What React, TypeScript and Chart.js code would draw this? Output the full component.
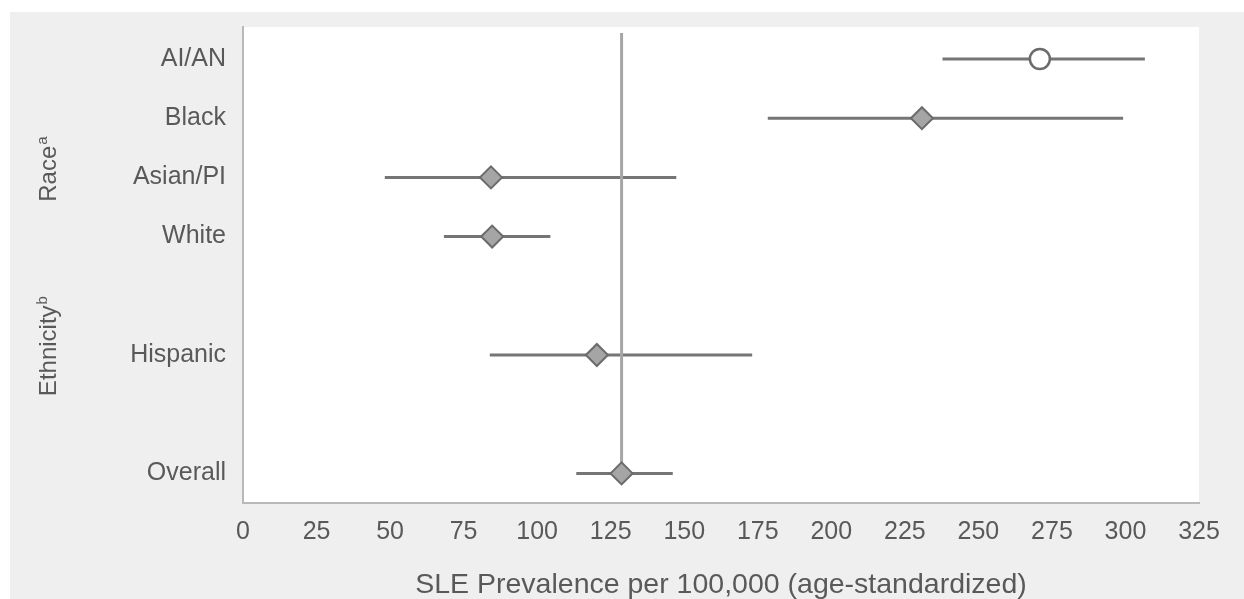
import React, { useEffect, useRef } from 'react';
import { Chart, registerables } from 'chart.js';

Chart.register(...registerables);

// ---- data ----
const categories = ['AI/AN', 'Black', 'Asian/PI', 'White', 'Hispanic', 'Overall'];
const rowPositions = [0, 1, 2, 3, 5, 7];
const estimates = [270.9, 230.8, 84.3, 84.7, 120.3, 128.7];
const lowerCI = [237.8, 178.4, 48.2, 68.3, 83.9, 113.3];
const upperCI = [306.6, 299.2, 147.3, 104.5, 173.1, 146.1];
const markerStyles = ['circle', 'rectRot', 'rectRot', 'rectRot', 'rectRot', 'rectRot'];
const markerFills = ['#ffffff', '#a5a5a5', '#a5a5a5', '#a5a5a5', '#a5a5a5', '#a5a5a5'];
const xTickValues = [0, 25, 50, 75, 100, 125, 150, 175, 200, 225, 250, 275, 300, 325];
const groupTitles = ['Race', 'Ethnicity'];
const groupSuperscripts = ['a', 'b'];
const groupCenters = [1.86, 4.85];
const xAxisTitle = 'SLE Prevalence per 100,000 (age-standardized)';
const referenceIndex = 5; // Overall
const referenceTop = -0.44;

const FONT = "'Liberation Sans', Arial, Helvetica, sans-serif";
const TEXT = '#595959';

export default function App() {
  const canvasRef = useRef<HTMLCanvasElement | null>(null);

  useEffect(() => {
    const canvas = canvasRef.current;
    if (!canvas) return;

    const errorDatasets = categories.map((c, i) => ({
      type: 'scatter' as const,
      label: c + ' CI',
      data: [
        { x: lowerCI[i], y: rowPositions[i] },
        { x: upperCI[i], y: rowPositions[i] },
      ],
      showLine: true,
      borderColor: '#757575',
      borderWidth: 3,
      pointRadius: 0,
      order: 3,
    }));

    const refDataset = {
      type: 'scatter' as const,
      label: 'reference',
      data: [
        { x: estimates[referenceIndex], y: referenceTop },
        { x: estimates[referenceIndex], y: rowPositions[referenceIndex] },
      ],
      showLine: true,
      borderColor: '#a6a6a6',
      borderWidth: 3,
      pointRadius: 0,
      order: 2,
    };

    const pointDataset = {
      type: 'scatter' as const,
      label: 'estimate',
      data: categories.map((_, i) => ({ x: estimates[i], y: rowPositions[i] })),
      pointStyle: markerStyles as any,
      backgroundColor: markerFills,
      borderColor: '#6b6b6b',
      borderWidth: markerStyles.map((s) => (s === 'circle' ? 2.5 : 2)),
      pointRadius: markerStyles.map((s) => (s === 'circle' ? 10 : 11)),
      showLine: false,
      order: 1,
    };

    const plotBg = {
      id: 'plotBg',
      beforeDraw(chart: any) {
        const { ctx, chartArea } = chart;
        ctx.save();
        ctx.fillStyle = '#ffffff';
        ctx.fillRect(chartArea.left, chartArea.top, chartArea.right - chartArea.left, chartArea.bottom - chartArea.top);
        ctx.restore();
      },
    };

    const groupLabels = {
      id: 'groupLabels',
      afterDraw(chart: any) {
        const { ctx } = chart;
        const yScale = chart.scales.y;
        ctx.save();
        ctx.fillStyle = TEXT;
        groupTitles.forEach((t, i) => {
          const cy = yScale.getPixelForValue(groupCenters[i]);
          const cx = 37;
          ctx.save();
          ctx.translate(cx, cy);
          ctx.rotate(-Math.PI / 2);
          ctx.font = `24px ${FONT}`;
          const w1 = ctx.measureText(t).width;
          ctx.font = `15px ${FONT}`;
          const w2 = ctx.measureText(groupSuperscripts[i]).width;
          const total = w1 + w2 + 1;
          ctx.textBaseline = 'alphabetic';
          ctx.textAlign = 'left';
          ctx.font = `24px ${FONT}`;
          ctx.fillText(t, -total / 2, 8.5);
          ctx.font = `15px ${FONT}`;
          ctx.fillText(groupSuperscripts[i], -total / 2 + w1 + 1, 8.5 - 9);
          ctx.restore();
        });
        ctx.restore();
      },
    };

    const chart = new Chart(canvas, {
      type: 'scatter',
      data: { datasets: [pointDataset, refDataset, ...errorDatasets] as any },
      options: {
        animation: false,
        responsive: false,
        maintainAspectRatio: false,
        devicePixelRatio: 1,
        layout: { padding: { top: 15, right: 45, left: 0, bottom: 0 } },
        plugins: {
          legend: { display: false },
          tooltip: { enabled: false },
        },
        scales: {
          x: {
            type: 'linear',
            position: 'bottom',
            min: 0,
            max: 325,
            afterBuildTicks(scale: any) {
              scale.ticks = xTickValues.map((v) => ({ value: v }));
            },
            afterFit(scale: any) {
              scale.height = 96;
            },
            grid: { display: false, drawTicks: false },
            border: { display: true, color: '#b8b8b8', width: 2 },
            ticks: {
              color: TEXT,
              font: { family: FONT, size: 25 },
              padding: 14,
              maxRotation: 0,
              autoSkip: false,
            },
            title: {
              display: true,
              text: xAxisTitle,
              color: TEXT,
              font: { family: FONT, size: 28.5, lineHeight: 1.0 },
              padding: 0,
            },
          },
          y: {
            type: 'linear',
            position: 'left',
            reverse: true,
            min: -0.54,
            max: 7.5,
            afterBuildTicks(scale: any) {
              scale.ticks = rowPositions.map((v) => ({ value: v }));
            },
            afterFit(scale: any) {
              scale.width = 233;
              scale.paddingTop = 0;
              scale.paddingBottom = 0;
            },
            grid: { display: false, drawTicks: false },
            border: { display: true, color: '#b8b8b8', width: 2 },
            ticks: {
              color: TEXT,
              font: { family: FONT, size: 25 },
              padding: 17,
              autoSkip: false,
              callback: (value: any) => {
                const idx = rowPositions.indexOf(Number(value));
                return idx >= 0 ? categories[idx] : '';
              },
            },
          },
        },
      },
      plugins: [plotBg, groupLabels],
    });

    return () => chart.destroy();
  }, []);

  return (
    <div style={{ position: 'fixed', left: 0, top: 0, width: 1244, height: 599, background: '#ffffff' }}>
      <div style={{ position: 'absolute', left: 10, top: 12, width: 1234, height: 587, background: '#efefef' }}>
        <canvas ref={canvasRef} width={1234} height={587} style={{ width: 1234, height: 587, display: 'block' }} />
      </div>
    </div>
  );
}
